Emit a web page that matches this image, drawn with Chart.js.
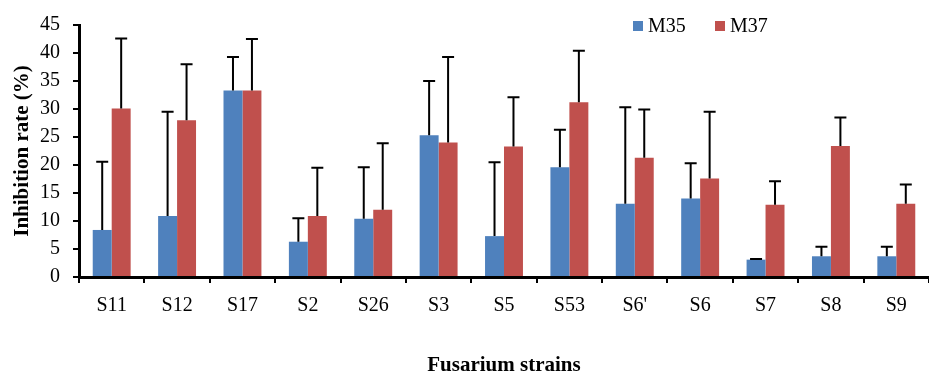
<!DOCTYPE html>
<html>
<head>
<meta charset="utf-8">
<script src="https://cdn.jsdelivr.net/npm/chart.js@4"></script>
<style>
  body { margin: 0; background: #fff; }
  #wrap { width: 929px; height: 374px; }
</style>
</head>
<body>
<div id="wrap"><canvas id="chart"></canvas></div>
<script>
const strains = ['S11', 'S12', 'S17', 'S2', 'S26', 'S3', 'S5', 'S53', "S6'", 'S6', 'S7', 'S8', 'S9'];
const m35 = [8.4, 10.9, 33.3, 6.3, 10.4, 25.3, 7.3, 19.6, 13.1, 14.0, 3.1, 3.7, 3.7];
const m35Err = [12.2, 18.6, 6.0, 4.2, 9.2, 9.7, 13.2, 6.7, 17.2, 6.3, 0.1, 1.7, 1.7];
const m37 = [30.1, 28.0, 33.3, 10.9, 12.0, 24.0, 23.3, 31.2, 21.3, 17.6, 12.9, 23.4, 13.1];
const m37Err = [12.5, 10.0, 9.2, 8.6, 11.9, 15.3, 8.8, 9.2, 8.6, 11.9, 4.2, 5.1, 3.4];
const yTicks = [0, 5, 10, 15, 20, 25, 30, 35, 40, 45];

const serif = 'Liberation Serif';

// upper error bars, drawn from the bar tops through the y scale
const errorBars = {
    id: 'errorBars',
    afterDatasetsDraw(chart) {
        const ctx = chart.ctx;
        const y = chart.scales.y;
        ctx.save();
        ctx.strokeStyle = '#000';
        ctx.lineWidth = 2;
        chart.data.datasets.forEach((ds, di) => {
            const meta = chart.getDatasetMeta(di);
            meta.data.forEach((bar, i) => {
                const top = y.getPixelForValue(ds.data[i] + ds.errors[i]);
                ctx.beginPath();
                ctx.moveTo(bar.x, bar.y);
                ctx.lineTo(bar.x, top);
                ctx.moveTo(bar.x - 6, top);
                ctx.lineTo(bar.x + 6, top);
                ctx.stroke();
            });
        });
        ctx.restore();
    }
};

// legend placed like the original, inside the plot at the top
const topLegend = {
    id: 'topLegend',
    afterDraw(chart) {
        const ctx = chart.ctx;
        ctx.save();
        ctx.font = '20px "' + serif + '"';
        ctx.textBaseline = 'middle';
        const items = [[633, chart.data.datasets[0]], [715, chart.data.datasets[1]]];
        items.forEach(([x, ds]) => {
            ctx.fillStyle = ds.backgroundColor;
            ctx.fillRect(x, 21, 10, 10);
            ctx.fillStyle = '#000';
            ctx.fillText(ds.label, x + 15, 27);
        });
        ctx.restore();
    }
};

new Chart(document.getElementById('chart'), {
    type: 'bar',
    data: {
        labels: strains,
        datasets: [
            { label: 'M35', data: m35, errors: m35Err, backgroundColor: '#4F81BD' },
            { label: 'M37', data: m37, errors: m37Err, backgroundColor: '#C0504D' }
        ]
    },
    options: {
        responsive: true,
        maintainAspectRatio: false,
        animation: false,
        layout: { padding: { top: 21, left: 0, right: 0, bottom: 0 } },
        datasets: { bar: { categoryPercentage: 0.58, barPercentage: 1.0 } },
        plugins: { legend: { display: false }, tooltip: { enabled: false } },
        scales: {
            x: {
                afterFit(scale) { scale.height = 97; },
                grid: { display: true, drawOnChartArea: false, color: '#000', lineWidth: 2, tickLength: 6, offset: true },
                border: { color: '#000', width: 3 },
                ticks: { color: '#000', font: { family: serif, size: 20 }, padding: 11, maxRotation: 0 },
                title: {
                    display: true,
                    text: 'Fusarium strains',
                    color: '#000',
                    font: { family: serif, size: 21, weight: 'bold', lineHeight: 0.8 },
                    padding: { top: 0, bottom: 0 }
                }
            },
            y: {
                min: 0,
                max: 45,
                afterFit(scale) { scale.width = 79; },
                afterBuildTicks(scale) { scale.ticks = yTicks.map(v => ({ value: v })); },
                grid: { display: true, drawOnChartArea: false, color: '#000', lineWidth: 2, tickLength: 6 },
                border: { color: '#000', width: 3 },
                ticks: { color: '#000', font: { family: serif, size: 20 }, padding: 13 },
                title: {
                    display: true,
                    text: 'Inhibition rate (%)',
                    color: '#000',
                    font: { family: serif, size: 21, weight: 'bold', lineHeight: 1.2 },
                    padding: { top: 10, bottom: 0 }
                }
            }
        }
    },
    plugins: [errorBars, topLegend]
});
</script>
</body>
</html>
